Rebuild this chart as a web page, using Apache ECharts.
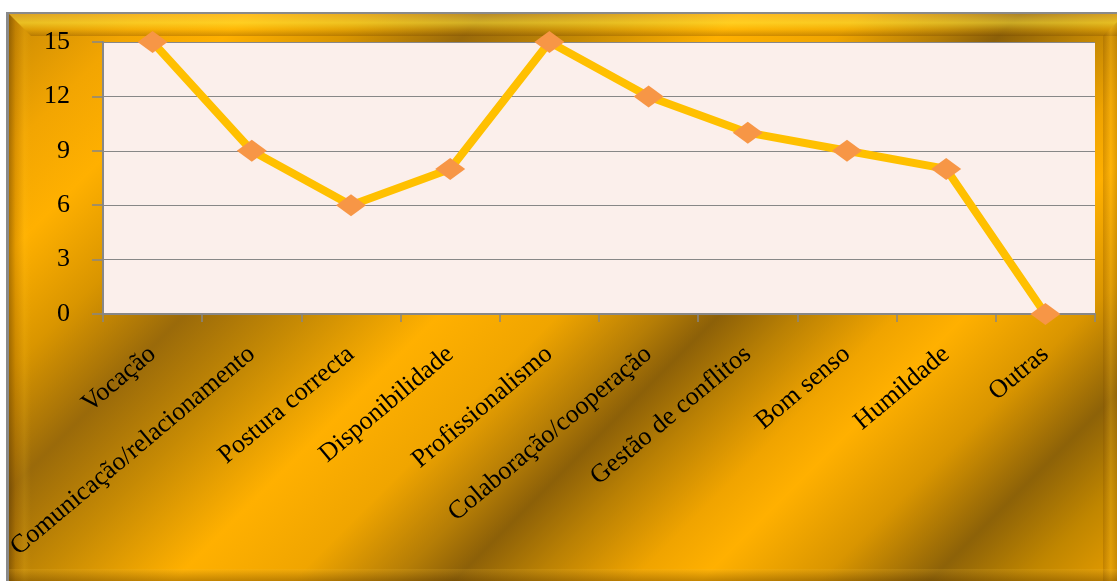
<!DOCTYPE html>
<html>
<head>
<meta charset="utf-8">
<script src="https://cdn.jsdelivr.net/npm/echarts@6/dist/echarts.min.js"></script>
<style>
  html, body { margin: 0; padding: 0; background: #ffffff; }
  body { width: 1117px; height: 581px; position: relative; overflow: hidden; }
  /* golden streaked panel with bevelled frame */
  #frame {
    position: absolute; left: 6px; top: 12px; width: 1125px; height: 575px;
    border-top: 2px solid #8a8a8a; border-left: 3px solid #8a8a8a;
    background: linear-gradient(135deg,
      #c98a04 0%, #f2a502 8%, #ffb000 14%, #d99500 21%, #9a6a0a 28%,
      #c68a04 35%, #ffb000 43%, #f0a500 50%, #b57d06 56%, #8c6008 59.5%,
      #b98004 64%, #f0a400 70%, #ffb000 74%, #d99500 81%, #8d6208 87.5%,
      #c08600 93%, #f0a300 100%);
  }
  .bevel { position: absolute; }
  #bev-top {
    left: 0; top: 0; width: 1125px; height: 22px;
    clip-path: polygon(0 0, 100% 0, 100% 100%, 22px 100%);
    background: linear-gradient(to bottom,
      rgba(255,215,110,0.30) 0%, rgba(255,232,60,0.55) 40%,
      rgba(255,200,20,0.25) 70%, rgba(110,65,0,0.30) 100%);
  }
  #bev-left {
    left: 0; top: 0; width: 22px; height: 575px;
    clip-path: polygon(0 0, 100% 22px, 100% 100%, 0 100%);
    background: linear-gradient(to right,
      rgba(80,45,0,0.45) 0%, rgba(150,90,0,0.25) 30%,
      rgba(255,200,40,0.12) 70%, rgba(0,0,0,0) 100%);
  }
  #bev-right {
    left: 1094px; top: 0; width: 22px; height: 575px;
    clip-path: polygon(0 22px, 100% 0, 100% 100%, 0 100%);
    background: linear-gradient(to right,
      rgba(120,70,0,0.25) 0%, rgba(255,190,30,0.25) 35%,
      rgba(100,60,0,0.45) 100%);
  }
  #bev-bottom {
    left: 0; top: 555px; width: 1125px; height: 20px;
    background: linear-gradient(to bottom,
      rgba(255,200,60,0.15) 0%, rgba(90,55,0,0.35) 60%, rgba(60,35,0,0.5) 100%);
  }
  #chart { position: absolute; left: 0; top: 0; width: 1117px; height: 581px; }
</style>
</head>
<body>
<div id="frame">
  <div class="bevel" id="bev-top"></div>
  <div class="bevel" id="bev-left"></div>
  <div class="bevel" id="bev-right"></div>
  <div class="bevel" id="bev-bottom"></div>
</div>
<div id="chart"></div>
<script>
  // Qualities named, with the number of mentions each
  const categories = [
    'Vocação',
    'Comunicação/relacionamento',
    'Postura correcta',
    'Disponibilidade',
    'Profissionalismo',
    'Colaboração/cooperação',
    'Gestão de conflitos',
    'Bom senso',
    'Humildade',
    'Outras'
  ];
  const counts = [15, 9, 6, 8, 15, 12, 10, 9, 8, 0];
  const yMin = 0;
  const yMax = 15;
  const yStep = 3;

  const chart = echarts.init(document.getElementById('chart'), null, { renderer: 'canvas' });
  const gray = '#878787';
  const serif = '"Liberation Serif", "Times New Roman", serif';

  chart.setOption({
    animation: false,
    backgroundColor: 'transparent',
    grid: {
      left: 103, right: 22, top: 42, bottom: 267,
      show: true, backgroundColor: '#fbefeb', borderWidth: 0
    },
    xAxis: {
      type: 'category',
      data: categories,
      boundaryGap: true,
      axisLine: { show: true, lineStyle: { color: gray, width: 2 } },
      axisTick: { show: true, length: 8, lineStyle: { color: gray, width: 1.5 } },
      axisLabel: {
        interval: 0, rotate: 40, margin: 37,
        fontFamily: serif, fontSize: 26, color: '#000'
      },
      splitLine: { show: false }
    },
    yAxis: {
      type: 'value',
      min: yMin, max: yMax, interval: yStep,
      axisLine: { show: true, lineStyle: { color: gray, width: 2 } },
      axisTick: { show: true, length: 11, lineStyle: { color: gray, width: 1.5 } },
      axisLabel: { margin: 33, fontFamily: serif, fontSize: 26, color: '#000' },
      splitLine: { show: true, lineStyle: { color: gray, width: 1.2 } }
    },
    series: [{
      type: 'line',
      data: counts,
      clip: false,
      lineStyle: { color: '#ffc000', width: 8 },
      symbol: 'diamond',
      symbolSize: [30, 22],
      itemStyle: { color: '#f79646', borderWidth: 0 },
      z: 5
    }]
  });
</script>
</body>
</html>
